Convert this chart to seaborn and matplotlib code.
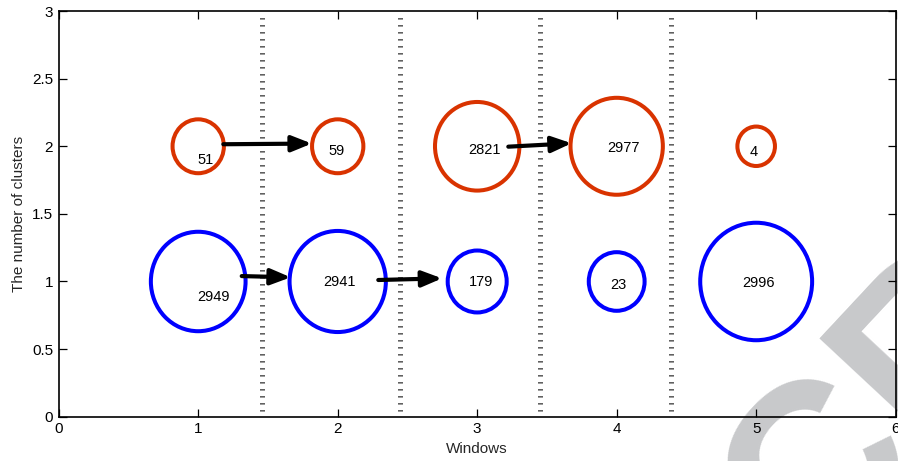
import numpy as np
import pandas as pd
import matplotlib
matplotlib.use("Agg")
import matplotlib.pyplot as plt
from matplotlib.markers import MarkerStyle
from matplotlib.path import Path
from matplotlib.transforms import Affine2D
import seaborn as sns

# Clusters detected in each time window (row 2 = second cluster, row 1 = first)
windows = [1, 2, 3, 4, 5, 1, 2, 3, 4, 5]
cluster_row = [2, 2, 2, 2, 2, 1, 1, 1, 1, 1]
members = [51, 59, 2821, 2977, 4, 2949, 2941, 179, 23, 2996]
group = ["second"] * 5 + ["first"] * 5

# Bubble radius in points and label nudges in data units
bubble_radius_pt = [19.4, 19.4, 31.9, 34.9, 14.2, 35.8, 36.4, 22.3, 21.1, 42.3]
label_dx = [0.054, -0.007, 0.051, 0.052, -0.016, 0.113, 0.016, 0.027, 0.012, 0.020]
label_dy = [-0.102, -0.033, -0.028, -0.015, -0.040, -0.113, -0.002, -0.004, -0.026, -0.009]

# Cluster transitions between consecutive windows
arrow_x0 = [1.180, 3.223, 1.312, 2.291]
arrow_x1 = [1.814, 3.677, 1.663, 2.748]
arrow_y0 = [2.015, 1.997, 1.040, 1.011]
arrow_y1 = [2.020, 2.022, 1.031, 1.023]

# Window boundaries
window_edges = [1.46, 2.45, 3.45, 4.39]

x_ticks = [0, 1, 2, 3, 4, 5, 6]
y_ticks = [0, 0.5, 1, 1.5, 2, 2.5, 3]

sns.set_style("ticks")
plt.rcParams["font.family"] = ["Liberation Sans", "DejaVu Sans"]

df = pd.DataFrame({
    "window": windows,
    "row": cluster_row,
    "members": members,
    "group": group,
    "area": [(2 * r) ** 2 for r in bubble_radius_pt],
})

fig = plt.figure(figsize=(8.98, 4.61), dpi=100)
ax = fig.add_axes([0.0654, 0.0961, 0.9320, 0.8799])
ax.patch.set_alpha(0)

# slightly tall ellipse marker
ring = Path.unit_circle().transformed(Affine2D().scale(1.0, 1.05))
marker = MarkerStyle(ring)

amin, amax = df["area"].min(), df["area"].max()
sns.scatterplot(
    data=df, x="window", y="row", hue="group",
    palette={"second": "#D93300", "first": "#0000FF"},
    size="area", sizes=(amin, amax), size_norm=(amin, amax),
    marker=marker, linewidth=2.9, legend=False, ax=ax, zorder=3,
)
coll = ax.collections[-1]
coll.set_edgecolors(coll.get_facecolors())
coll.set_facecolors("none")

for w, r, m, dx, dy in zip(windows, cluster_row, members, label_dx, label_dy):
    ax.text(w + dx, r + dy, str(m), ha="center", va="center",
            fontsize=10.5, color="black", zorder=4)

for x0, x1, y0, y1 in zip(arrow_x0, arrow_x1, arrow_y0, arrow_y1):
    ax.annotate("", xy=(x1, y1), xytext=(x0, y0),
                arrowprops=dict(arrowstyle="-|>,head_length=0.6,head_width=0.24",
                                mutation_scale=20, lw=3, color="black",
                                shrinkA=0, shrinkB=0), zorder=5)

ax.vlines(window_edges, 0.04, 2.98, colors="#3a3a3a", linewidth=3.6,
          linestyles=(0, (0.26, 1.14)), zorder=2)

ax.set_xlim(0, 6)
ax.set_ylim(0, 3)
ax.set_xticks(x_ticks)
ax.set_xticklabels([str(t) for t in x_ticks])
ax.set_yticks(y_ticks)
ax.set_yticklabels(["0", "0.5", "1", "1.5", "2", "2.5", "3"])
ax.tick_params(direction="in", length=6, width=0.9, top=True, right=True,
               labelsize=11, pad=4, colors="black")
for s in ax.spines.values():
    s.set_visible(True)
    s.set_linewidth(1.2)
    s.set_color("black")
ax.set_xlabel("Windows", fontsize=11, labelpad=4)
ax.set_ylabel("The number of clusters", fontsize=11, labelpad=4)

# watermark
fig.text(1.4408, 0.8487, "ACCEPTED MANUSCRIPT", fontsize=169, fontweight="bold",
         color="#C8C9CB", rotation=47, rotation_mode="anchor",
         ha="right", va="baseline", zorder=-1)

fig.savefig("out.png", dpi=100)
